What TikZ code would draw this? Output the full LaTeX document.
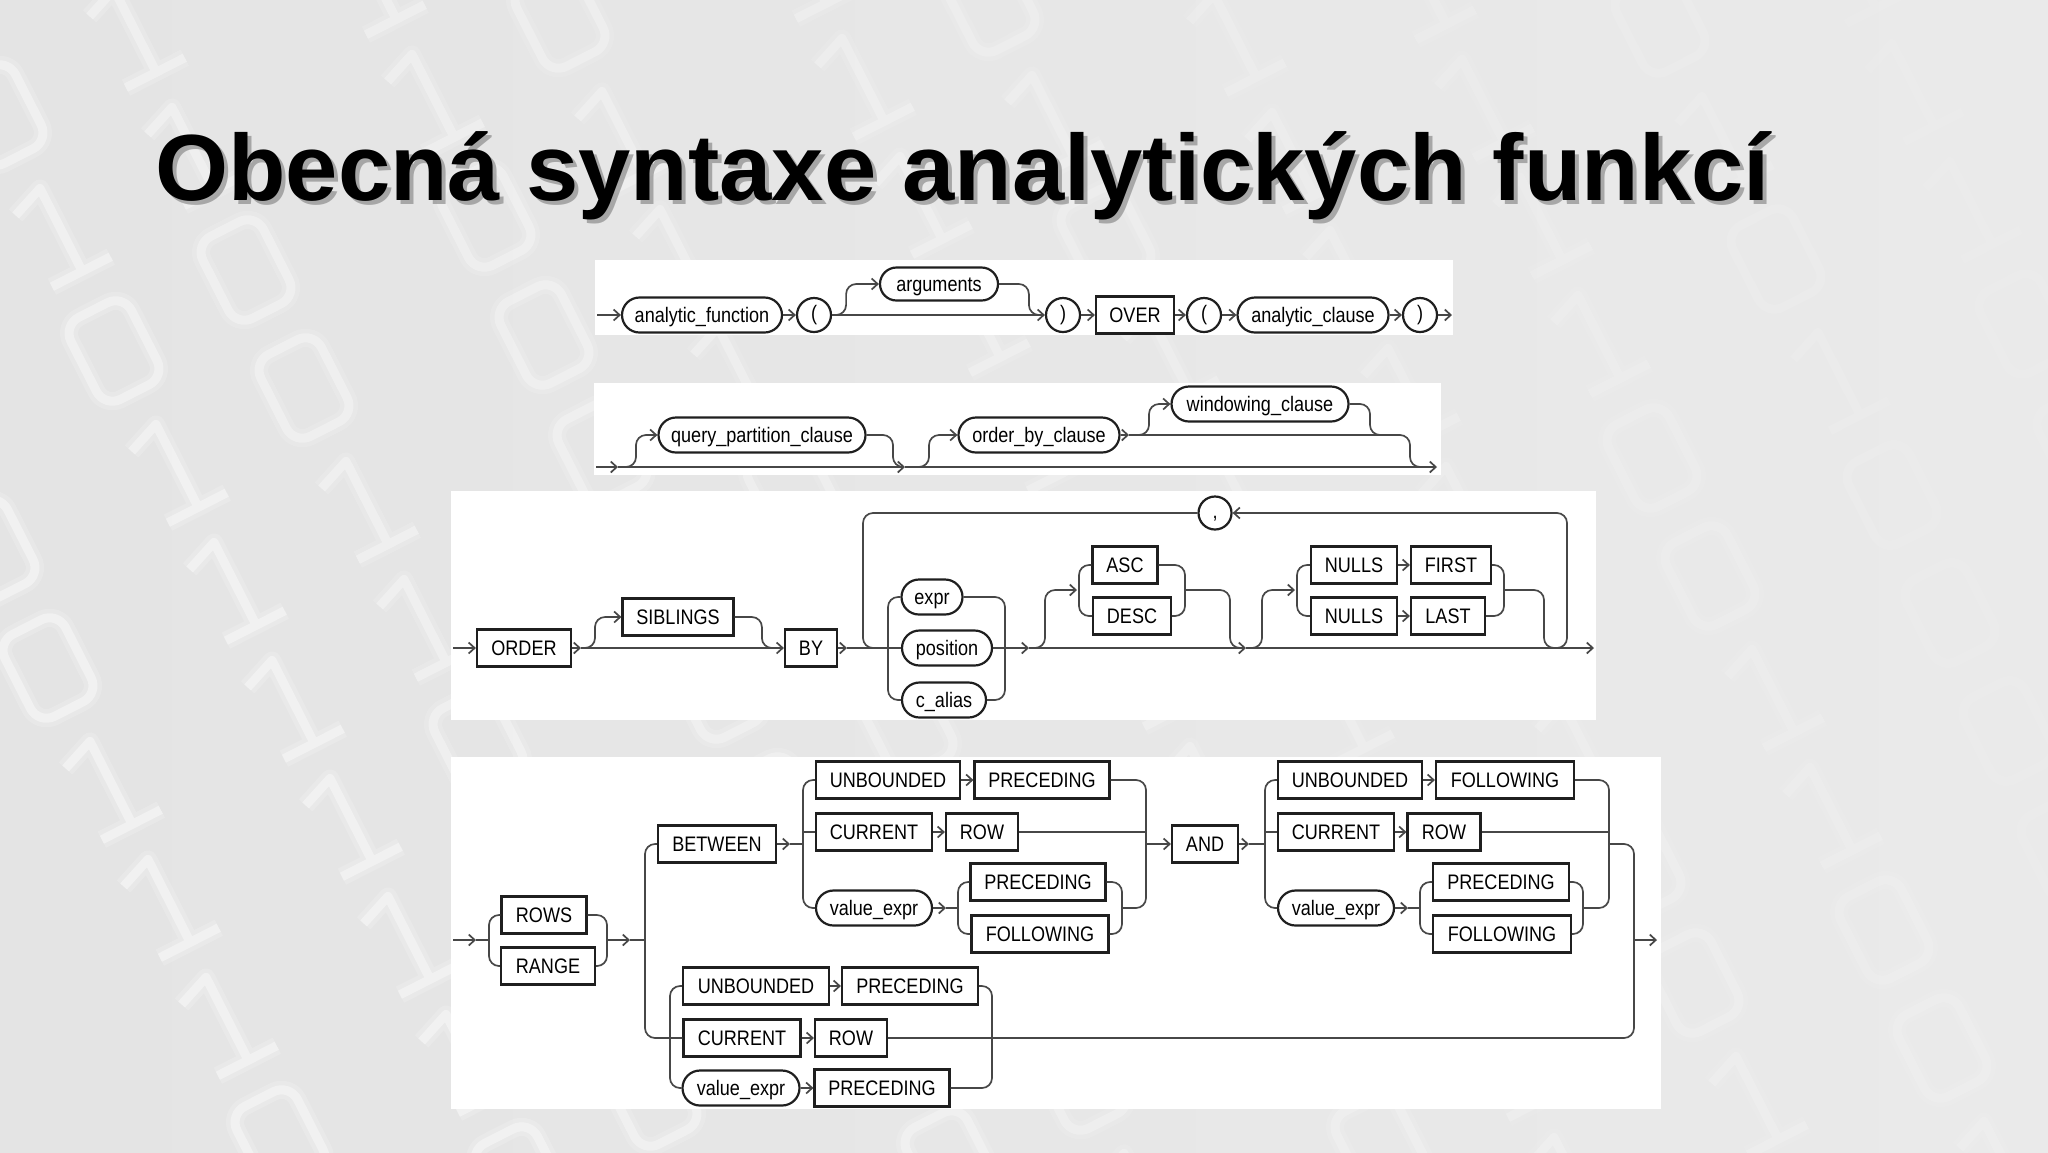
\documentclass[tikz,border=0pt]{standalone}
\usepackage{fontspec}
\usetikzlibrary{arrows.meta,shapes.misc,calc}
\newfontfamily\rrfont[FakeStretch=0.86]{Liberation Sans}
\newfontfamily\titlefam{Liberation Sans}
\newcommand\rrf{\rrfont\fontsize{10.5pt}{12pt}\selectfont}
\newcommand\titlef{\titlefam\bfseries\fontsize{47pt}{56pt}\selectfont}
\definecolor{bgc}{HTML}{E4E4E4}
\definecolor{bgr}{HTML}{EAEAEA}
\tikzset{
  conn/.style={draw=black!72, line width=0.85pt, rounded corners=5pt},
  arr/.style={-{Straight Barb[length=3pt,width=5.5pt,line width=0.85pt]}},
  kw/.style={draw=black!88, line width=1.1pt, rectangle, minimum height=18.5pt,
    minimum width=#1*0.5pt, inner sep=0pt, font=\rrf, text height=7.5pt, text depth=0pt},
  kw/.default=60,
  nt/.style={draw=black!88, line width=1.1pt, rounded rectangle, minimum height=17.5pt,
    minimum width=#1*0.5pt, inner sep=0pt, font=\rrf, text height=7.5pt, text depth=0pt},
  nt/.default=60,
  ct/.style={draw=black!88, line width=1.1pt, circle, minimum size=17pt, inner sep=0pt,
    font=\rrf, text height=6.5pt, text depth=1pt},
  dzero/.pic={\draw[rounded corners=9pt] (-34,-46) rectangle (34,46);},
  done/.pic={\draw[line join=round] (-28,-34) -- (6,-47) -- (6,46) (-28,46) -- (38,46);},
}
\newcommand\digitpass[2]{%
 \pgfmathsetseed{12}%
 \foreach \col in {0,...,11}{%
  \pgfmathsetmacro\dop{max(0.02,(#2)*(1-\col*0.085))}%
  \foreach \k in {0,...,10}{%
   \pgfmathrandominteger{\dg}{0}{1}%
   \pgfmathsetmacro\xx{-300+\col*215+\k*58+mod(\col,2)*25}%
   \pgfmathsetmacro\yy{-40+\k*118+mod(\col*37,90)}%
   \ifnum\dg=0 \pic[rotate=27,color=white,draw opacity=\dop,line width=#1] at (\xx,\yy) {dzero};%
   \else \pic[rotate=27,color=white,draw opacity=\dop,line width=#1] at (\xx,\yy) {done};\fi
  }%
 }%
}
\begin{document}
\begin{tikzpicture}[x=0.5pt,y=-0.5pt]
\useasboundingbox (0,0) rectangle (2048,1152);
% background
\shade[left color=bgc, right color=bgr] (0,0) rectangle (2048,1152);
\digitpass{9pt}{0.18}
\digitpass{4.5pt}{0.4}
% title
\node[anchor=base west, inner sep=0pt, font=\titlef, text=black!55, opacity=0.55] at (159,204) {Obecná syntaxe analytických funkcí};
\node[anchor=base west, inner sep=0pt, font=\titlef] (title) at (155,200) {Obecná syntaxe analytických funkcí};
% panels
\fill[white] (595,260) rectangle (1453,335);
\fill[white] (594,383) rectangle (1441,475);
\fill[white] (451,491) rectangle (1596,720);
\fill[white] (451,757) rectangle (1661,1109);

% ---------- panel 1
\node[nt=160] (af) at (702,315) {analytic\_function};
\node[ct] (lp1) at (814,315) {(};
\node[nt=118, minimum height=16.5pt] (args) at (939,284) {arguments};
\node[ct] (rp1) at (1063,315) {)};
\node[kw=78] (over) at (1135,315) {OVER};
\node[ct] (lp2) at (1204,315) {(};
\node[nt=151] (ac) at (1313,315) {analytic\_clause};
\node[ct] (rp2) at (1420,315) {)};
\coordinate (s1) at (597,315);
\coordinate (e1) at (1452,315);
\draw[conn,arr] (s1) -- (af.west);
\draw[conn,arr] (af.east) -- (lp1.west);
\draw[conn,arr] (lp1.east) -- (rp1.west);
\draw[conn,arr] (lp1.east) -- ++(14,0) |- (args.west);
\draw[conn] (args.east) -| ($(rp1.west)+(-16,0)$) -- ($(rp1.west)+(-6,0)$);
\draw[conn,arr] (rp1.east) -- (over.west);
\draw[conn,arr] (over.east) -- (lp2.west);
\draw[conn,arr] (lp2.east) -- (ac.west);
\draw[conn,arr] (ac.east) -- (rp2.west);
\draw[conn,arr] (rp2.east) -- (e1);

% ---------- panel 2
\node[nt=207] (qpc) at (762,435) {query\_partition\_clause};
\node[nt=161] (obc) at (1039,435) {order\_by\_clause};
\node[nt=177] (wc) at (1260,404) {windowing\_clause};
\coordinate (s2) at (596,467);
\coordinate (m2a) at (618,467);
\coordinate (m2b) at (905,467);
\coordinate (e2) at (1437,467);
\coordinate (j2) at (1129,435);
\draw[conn,arr] (s2) -- (m2a);
\draw[conn,arr] (m2a) -- (m2b);
\draw[conn,arr] (m2b) -- (e2);
\draw[conn,arr] (m2a) -- ++(18,0) |- (qpc.west);
\draw[conn] (qpc.east) -| ($(m2b)+(-12,0)$) -- ($(m2b)+(-5,0)$);
\draw[conn,arr] (m2b) -- ++(24,0) |- (obc.west);
\draw[conn,arr] (obc.east) -- (j2);
\draw[conn] (j2) -| (1410,467) -- ($(e2)+(-6,0)$);
\draw[conn,arr] (j2) -- ++(20,0) |- (wc.west);
\draw[conn] (wc.east) -| (1370,435) -- (1382,435);

% ---------- panel 3
\node[kw=94] (order) at (524,648) {ORDER};
\node[kw=111] (sib) at (678,617) {SIBLINGS};
\node[kw=52] (by) at (811,648) {BY};
\node[nt=61] (expr) at (932,597) {expr};
\node[nt=90] (pos) at (947,648) {position};
\node[nt=84] (cal) at (944,700) {c\_alias};
\node[kw=65] (asc) at (1125,565) {ASC};
\node[kw=78] (desc) at (1132,616) {DESC};
\node[kw=86] (n1) at (1354,565) {NULLS};
\node[kw=80] (first) at (1451,565) {FIRST};
\node[kw=86] (n2) at (1354,616) {NULLS};
\node[kw=74] (last) at (1448,616) {LAST};
\node[ct, minimum size=16.5pt] (comma) at (1215,513) {,};
\coordinate (s3) at (453,648);
\coordinate (e3) at (1594,648);
\coordinate (j3a) at (581,648);
\coordinate (j3b) at (847,648);
\coordinate (j3c) at (1029,648);
\coordinate (j3d) at (1246,648);
\draw[conn,arr] (s3) -- (order.west);
\draw[conn,arr] (order.east) -- (j3a);
\draw[conn,arr] (j3a) -- (by.west);
\draw[conn,arr] (j3a) -- ++(14,0) |- (sib.west);
\draw[conn] (sib.east) -| ($(by.west)+(-22,0)$) -- ($(by.west)+(-8,0)$);
\draw[conn,arr] (by.east) -- (j3b);
\draw[conn] (j3b) -- (pos.west);
\draw[conn] (expr.west) -- (888,597) -- (888,700) -- (cal.west);
\draw[conn] (expr.east) -- (1005,597) -- (1005,700) -- (cal.east);
\draw[conn,arr] (pos.east) -- (j3c);
\draw[conn,arr] (j3c) -- (j3d);
\draw[conn,arr] (j3c) -- ++(16,0) |- (1077,590);
\draw[conn] (asc.west) -- (1079,565) -- (1079,616) -- (desc.west);
\draw[conn] (asc.east) -- (1185,565) -- (1185,616) -- (desc.east);
\draw[conn] (1185,590) -- (1230,590) -- (1230,648) -- ($(j3d)+(-6,0)$);
\draw[conn,arr] (j3d) -- ++(16,0) |- (1295,590);
\draw[conn] (n1.west) -- (1297,565) -- (1297,616) -- (n2.west);
\draw[conn,arr] (n1.east) -- (first.west);
\draw[conn,arr] (n2.east) -- (last.west);
\draw[conn] (first.east) -- (1504,565) -- (1504,616) -- (last.east);
\draw[conn] (1504,590) -- (1544,590) -- (1544,648) -- (1556,648);
\draw[conn,arr] (j3d) -- (e3);
\draw[conn,arr] (1555,648) -- (1567,648) -- (1567,513) -- (comma.east);
\draw[conn] (comma.west) -- (863,513) -- (863,648) -- (876,648);

% ---------- panel 4
\node[kw=85] (rows) at (544,915) {ROWS};
\node[kw=94] (range) at (548,966) {RANGE};
\node[kw=118] (between) at (717,844) {BETWEEN};
\node[kw=144] (ub1) at (888,780) {UNBOUNDED};
\node[kw=135] (pr1) at (1042,780) {PRECEDING};
\node[kw=116] (cur1) at (874,832) {CURRENT};
\node[kw=72] (row1) at (982,832) {ROW};
\node[nt=116] (ve1) at (874,908) {value\_expr};
\node[kw=135] (pr2) at (1038,882) {PRECEDING};
\node[kw=137] (fo1) at (1040,934) {FOLLOWING};
\node[kw=66] (and) at (1205,844) {AND};
\node[kw=144] (ub2) at (1350,780) {UNBOUNDED};
\node[kw=138] (fo2) at (1505,780) {FOLLOWING};
\node[kw=116] (cur2) at (1336,832) {CURRENT};
\node[kw=73] (row2) at (1444,832) {ROW};
\node[nt=116] (ve2) at (1336,908) {value\_expr};
\node[kw=136] (pr3) at (1501,882) {PRECEDING};
\node[kw=138] (fo3) at (1502,934) {FOLLOWING};
\node[kw=146] (ub3) at (756,986) {UNBOUNDED};
\node[kw=136] (pr4) at (910,986) {PRECEDING};
\node[kw=117] (cur3) at (742,1038) {CURRENT};
\node[kw=72] (row3) at (851,1038) {ROW};
\node[nt=117] (ve3) at (741,1088) {value\_expr};
\node[kw=135] (pr5) at (882,1088) {PRECEDING};
\coordinate (s4) at (453,940);
\coordinate (e4) at (1657,940);
\draw[conn,arr] (s4) -- (476,940);
\draw[conn] (476,940) -- (489,940);
\draw[conn] (rows.west) -- (489,915) -- (489,966) -- (range.west);
\draw[conn] (rows.east) -- (607,915) -- (607,966) -- (range.east);
\draw[conn,arr] (607,940) -- (630,940);
\draw[conn] (630,940) -- (645,940);
\draw[conn] (between.west) -- (645,844) -- (645,1038) -- (cur3.west);
\draw[conn,arr] (between.east) -- (790,844);
\draw[conn] (790,844) -- (803,844);
\draw[conn] (ub1.west) -- (803,780) -- (803,908) -- (ve1.west);
\draw[conn] (803,832) -- (cur1.west);
\draw[conn,arr] (ub1.east) -- (pr1.west);
\draw[conn,arr] (cur1.east) -- (row1.west);
\draw[conn,arr] (ve1.east) -- (946,908);
\draw[conn] (946,908) -- (958,908);
\draw[conn] (pr2.west) -- (958,882) -- (958,934) -- (fo1.west);
\draw[conn] (pr2.east) -- (1122,882) -- (1122,934) -- (fo1.east);
\draw[conn] (pr1.east) -- (1146,780) -- (1146,908) -- (1122,908);
\draw[conn] (row1.east) -- (1146,832);
\draw[conn,arr] (1146,844) -- (and.west);
\draw[conn,arr] (and.east) -- (1249,844);
\draw[conn] (1249,844) -- (1265,844);
\draw[conn] (ub2.west) -- (1265,780) -- (1265,908) -- (ve2.west);
\draw[conn] (1265,832) -- (cur2.west);
\draw[conn,arr] (ub2.east) -- (fo2.west);
\draw[conn,arr] (cur2.east) -- (row2.west);
\draw[conn,arr] (ve2.east) -- (1408,908);
\draw[conn] (1408,908) -- (1420,908);
\draw[conn] (pr3.west) -- (1420,882) -- (1420,934) -- (fo3.west);
\draw[conn] (pr3.east) -- (1583,882) -- (1583,934) -- (fo3.east);
\draw[conn] (fo2.east) -- (1609,780) -- (1609,908) -- (1583,908);
\draw[conn] (row2.east) -- (1609,832);
\draw[conn] (1609,844) -- (1634,844) -- (1634,1038) -- (row3.east);
\draw[conn,arr] (1634,940) -- (e4);
\draw[conn] (ub3.west) -- (670,986) -- (670,1088) -- (ve3.west);
\draw[conn,arr] (ub3.east) -- (pr4.west);
\draw[conn,arr] (cur3.east) -- (row3.west);
\draw[conn,arr] (ve3.east) -- (pr5.west);
\draw[conn] (pr4.east) -- (992,986) -- (992,1088) -- (pr5.east);
\end{tikzpicture}
\end{document}
